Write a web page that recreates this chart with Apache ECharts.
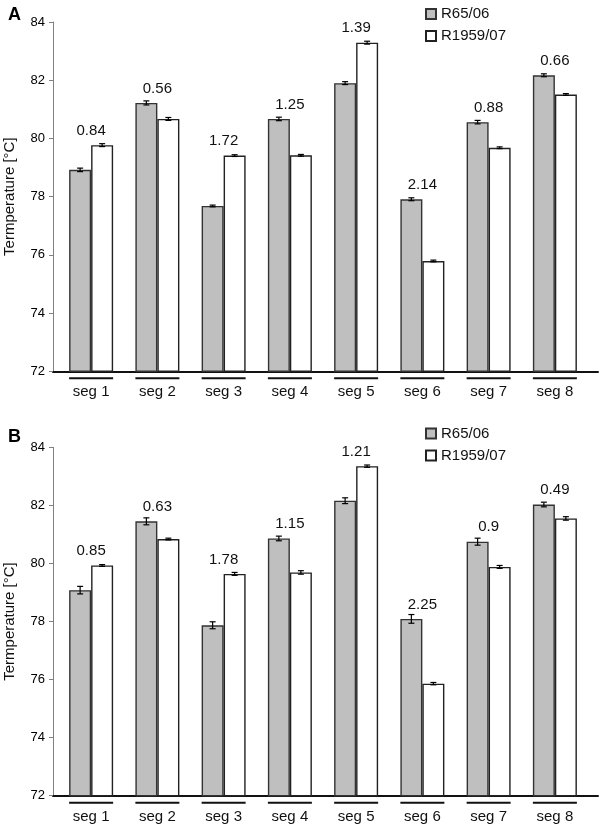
<!DOCTYPE html>
<html>
<head>
<meta charset="utf-8">
<script src="https://cdn.jsdelivr.net/npm/echarts@6/dist/echarts.min.js"></script>
<style>
html,body{margin:0;padding:0;background:#fff;}
#c{width:600px;height:826px;}
</style>
</head>
<body>
<div id="c"></div>
<script>
// ---- data ----
const categories = ['seg 1','seg 2','seg 3','seg 4','seg 5','seg 6','seg 7','seg 8'];
const yTicks = [72, 74, 76, 78, 80, 82, 84];
const seriesNames = ['R65/06', 'R1959/07'];

// Panel A
const aR65 = [78.92, 81.22, 77.68, 80.67, 81.90, 77.91, 80.56, 82.17];
const aR65Err = [0.06, 0.07, 0.03, 0.06, 0.05, 0.05, 0.06, 0.05];
const aR1959 = [79.77, 80.67, 79.41, 79.42, 83.29, 75.79, 79.68, 81.51];
const aR1959Err = [0.05, 0.05, 0.03, 0.03, 0.05, 0.03, 0.03, 0.03];
const aDiff = ['0.84','0.56','1.72','1.25','1.39','2.14','0.88','0.66'];

// Panel B
const bR65 = [79.08, 81.45, 77.87, 80.86, 82.16, 78.09, 80.75, 82.03];
const bR65Err = [0.13, 0.12, 0.12, 0.08, 0.10, 0.15, 0.12, 0.08];
const bR1959 = [79.93, 80.84, 79.64, 79.69, 83.35, 75.86, 79.88, 81.55];
const bR1959Err = [0.03, 0.03, 0.05, 0.06, 0.04, 0.04, 0.05, 0.06];
const bDiff = ['0.85','0.63','1.78','1.15','1.21','2.25','0.9','0.49'];

// ---- styles ----
const FONT = "'Liberation Sans', Arial, sans-serif";
const GRAY = '#bfbfbf';
const BAR_W = 22;

const chart = echarts.init(document.getElementById('c'), null, {renderer: 'canvas'});

const panels = [
  {top: 22, height: 349.3, r65: aR65, r65e: aR65Err, r59: aR1959, r59e: aR1959Err, diff: aDiff, letter: 'A', letterTop: 1, legendTop: 1.5},
  {top: 447.3, height: 348.4, r65: bR65, r65e: bR65Err, r59: bR1959, r59e: bR1959Err, diff: bDiff, letter: 'B', letterTop: 423, legendTop: 421}
];

const grid = [], xAxis = [], yAxis = [], series = [], legend = [], title = [];

function errItem(offset) {
  return function (params, api) {
    const i = api.value(0), m = api.value(1), e = api.value(2);
    const hi = api.coord([i, m + e]);
    const lo = api.coord([i, m - e]);
    const x = hi[0] + offset;
    const st = {stroke: '#000', lineWidth: 1.2};
    return {type: 'group', children: [
      {type: 'line', shape: {x1: x, y1: hi[1], x2: x, y2: lo[1]}, style: st},
      {type: 'line', shape: {x1: x - 3, y1: hi[1], x2: x + 3, y2: hi[1]}, style: st},
      {type: 'line', shape: {x1: x - 3, y1: lo[1], x2: x + 3, y2: lo[1]}, style: st}
    ]};
  };
}

panels.forEach((p, k) => {
  const gFrame = k * 2, gBars = k * 2 + 1;
  grid.push({left: 53, top: p.top, width: 545, height: p.height, containLabel: false, outerBoundsMode: 'none'});
  grid.push({left: 58, top: p.top, width: 530, height: p.height, containLabel: false, outerBoundsMode: 'none'});

  // frame axes
  xAxis.push({gridIndex: gFrame, type: 'value', min: 0, max: 1,
    axisLine: {show: true, lineStyle: {color: '#111', width: 2}},
    axisTick: {show: false}, axisLabel: {show: false}, splitLine: {show: false}});
  yAxis.push({gridIndex: gFrame, type: 'value', min: yTicks[0], max: yTicks[yTicks.length - 1], interval: 2,
    name: 'Termperature [°C]', nameLocation: 'middle', nameGap: 36,
    nameTextStyle: {fontFamily: FONT, fontSize: 15, color: '#111'},
    axisLine: {show: true, lineStyle: {color: '#808080', width: 1}},
    axisTick: {show: true, length: 4, lineStyle: {color: '#808080'}},
    axisLabel: {fontFamily: FONT, fontSize: 13, color: '#000', margin: 8},
    splitLine: {show: false}});

  // bar axes
  xAxis.push({gridIndex: gBars, type: 'category', data: categories,
    axisLine: {show: false}, axisTick: {show: false},
    axisLabel: {margin: 6, interval: 0,
      formatter: v => '{u| }\n{t|' + v + '}',
      rich: {
        u: {width: 44, height: 2, lineHeight: 2, fontSize: 2, backgroundColor: '#111'},
        t: {fontFamily: FONT, fontSize: 15, color: '#111', lineHeight: 26, align: 'center'}
      }}});
  yAxis.push({gridIndex: gBars, type: 'value', show: false, min: yTicks[0], max: yTicks[yTicks.length - 1]});

  series.push({name: seriesNames[0], type: 'bar', xAxisIndex: gBars, yAxisIndex: gBars,
    data: p.r65, barWidth: BAR_W, barGap: '0%',
    itemStyle: {color: GRAY, borderColor: '#333', borderWidth: 1.4}, emphasis: {disabled: true}});
  series.push({name: seriesNames[1], type: 'bar', xAxisIndex: gBars, yAxisIndex: gBars,
    data: p.r59, barWidth: BAR_W, barGap: '0%',
    itemStyle: {color: '#fff', borderColor: '#222', borderWidth: 1.4}, emphasis: {disabled: true}});

  series.push({type: 'custom', xAxisIndex: gBars, yAxisIndex: gBars, z: 5,
    renderItem: errItem(-BAR_W / 2),
    data: p.r65.map((v, i) => [i, v, p.r65e[i]])});
  series.push({type: 'custom', xAxisIndex: gBars, yAxisIndex: gBars, z: 5,
    renderItem: errItem(BAR_W / 2),
    data: p.r59.map((v, i) => [i, v, p.r59e[i]])});

  const diffs = p.diff;
  series.push({type: 'custom', xAxisIndex: gBars, yAxisIndex: gBars, z: 6,
    renderItem: function (params, api) {
      const c = api.coord([api.value(0), api.value(1)]);
      return {type: 'text', x: c[0], y: c[1] - 14.5,
        style: {text: diffs[params.dataIndex], fontFamily: FONT, fontSize: 15, fill: '#111',
          align: 'center', verticalAlign: 'middle'}};
    },
    data: p.r65.map((v, i) => [i, Math.max(v, p.r59[i])])});

  legend.push({data: seriesNames, orient: 'vertical', left: 420, top: p.legendTop,
    itemWidth: 10, itemHeight: 10, itemGap: 7, icon: 'rect', selectedMode: false,
    textStyle: {fontFamily: FONT, fontSize: 15, color: '#111'}});

  title.push({text: p.letter, left: 3, top: p.letterTop,
    textStyle: {fontFamily: FONT, fontSize: 18, fontWeight: 'bold', color: '#000'}});
});

chart.setOption({animation: false, title, grid, xAxis, yAxis, series, legend});
</script>
</body>
</html>
